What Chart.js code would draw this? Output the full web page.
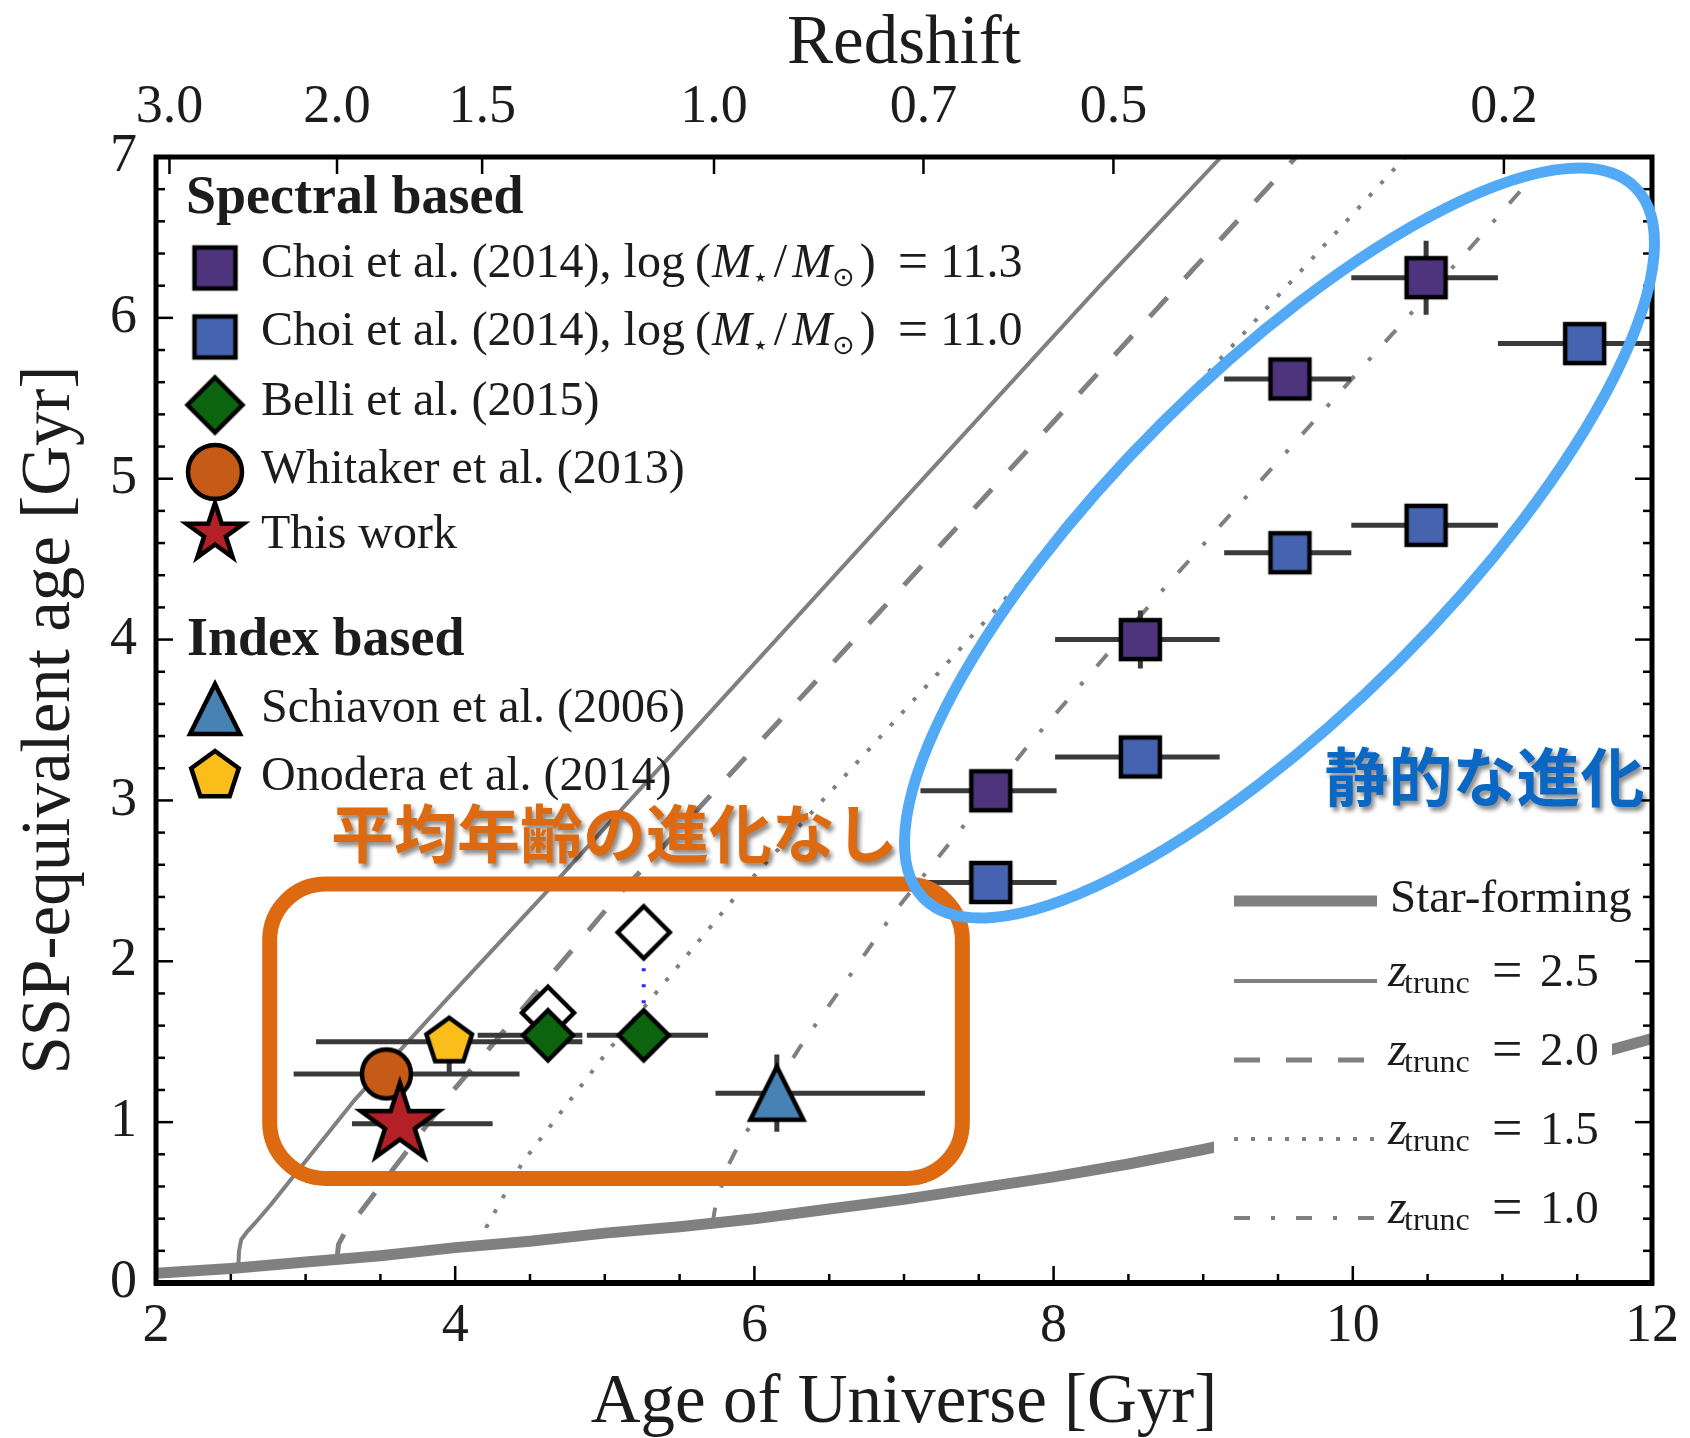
<!DOCTYPE html>
<html>
<head>
<meta charset="utf-8">
<title>SSP-equivalent age vs age of Universe</title>
<script src="https://cdn.jsdelivr.net/npm/chart.js@4.4.1/dist/chart.umd.min.js"></script>
<style>
  html, body { margin: 0; padding: 0; background: #fff; }
  #box { width: 1690px; height: 1438px; }
</style>
</head>
<body>
<div id="box"><canvas id="myChart"></canvas></div>
<script>
// axes
const ageMin = 2, ageMax = 12, ageStep = 2, ageMinorStep = 0.5;
const sspMin = 0, sspMax = 7, sspStep = 1, sspMinorStep = 0.2;
const redshiftLabels = ['3.0', '2.0', '1.5', '1.0', '0.7', '0.5', '0.2'];
const redshiftAges = [2.09, 3.21, 4.18, 5.73, 7.13, 8.40, 11.01];

// Choi et al. (2014), log M = 11.3
const choi113Age = [7.58, 8.58, 9.58, 10.49];
const choi113SSP = [3.06, 4.00, 5.62, 6.25];
const choi113AgeLo = [7.11, 8.01, 9.14, 9.99];
const choi113AgeHi = [8.02, 9.11, 9.99, 10.97];
const choi113ErrLo = [0.08, 0.18, 0.10, 0.23];
const choi113ErrHi = [0.08, 0.18, 0.10, 0.23];

// Choi et al. (2014), log M = 11.0
const choi110Age = [7.58, 8.58, 9.58, 10.49, 11.55];
const choi110SSP = [2.49, 3.27, 4.54, 4.71, 5.84];
const choi110AgeLo = [7.11, 8.01, 9.14, 9.99, 10.97];
const choi110AgeHi = [8.02, 9.11, 9.99, 10.97, 11.99];
const choi110ErrLo = [0.08, 0.08, 0.08, 0.08, 0.08];
const choi110ErrHi = [0.08, 0.08, 0.08, 0.08, 0.08];

// Belli et al. (2015), filled and open
const belliAge = [4.62, 5.26];
const belliSSP = [1.54, 1.54];
const belliAgeLo = [4.15, 4.88];
const belliAgeHi = [4.85, 5.69];
const belliErrLo = [0.10, 0.13];
const belliErrHi = [0.10, 0.13];
const belliOpenSSP = [1.68, 2.18];

// Whitaker et al. (2013)
const whitakerAge = [3.54];
const whitakerSSP = [1.30];
const whitakerAgeLo = [2.92];
const whitakerAgeHi = [4.43];
const whitakerErrLo = [0.08];
const whitakerErrHi = [0.08];

// This work
const thisWorkAge = [3.63];
const thisWorkSSP = [0.99];
const thisWorkAgeLo = [3.31];
const thisWorkAgeHi = [4.25];
const thisWorkErrLo = [0.08];
const thisWorkErrHi = [0.08];

// Schiavon et al. (2006)
const schiavonAge = [6.15];
const schiavonSSP = [1.18];
const schiavonAgeLo = [5.74];
const schiavonAgeHi = [7.14];
const schiavonErrLo = [0.24];
const schiavonErrHi = [0.24];

// Onodera et al. (2014)
const onoderaAge = [3.96];
const onoderaSSP = [1.50];
const onoderaAgeLo = [3.07];
const onoderaAgeHi = [4.85];
const onoderaErrLo = [0.19];
const onoderaErrHi = [0.10];

// model tracks
const sfAge = [2.0, 2.5, 3.0, 3.5, 4.0, 4.5, 5.0, 5.5, 6.0, 6.5, 7.0, 7.5, 8.0, 8.5, 9.0, 9.5, 10.0, 10.5, 11.0, 11.5, 12.0];
const sfSSP = [0.06, 0.09, 0.13, 0.17, 0.22, 0.26, 0.31, 0.35, 0.40, 0.46, 0.52, 0.59, 0.66, 0.74, 0.83, 0.93, 1.04, 1.15, 1.27, 1.39, 1.52];
const z25Age = [2.55, 2.555, 2.57, 2.61, 2.66, 2.77, 2.89, 3.33, 3.94, 4.60, 6.00, 7.00, 8.29, 9.12];
const z25SSP = [0.10, 0.20, 0.27, 0.32, 0.37, 0.49, 0.63, 1.14, 1.76, 2.42, 3.85, 4.87, 6.18, 7.00];
const z20Age = [3.21, 3.22, 3.26, 3.48, 3.99, 4.22, 5.08, 6.50, 8.34, 9.62];
const z20SSP = [0.15, 0.24, 0.31, 0.58, 1.20, 1.45, 2.40, 3.83, 5.70, 7.00];
const z15Age = [4.18, 4.21, 4.45, 5.01, 5.89, 7.50, 9.09, 10.35];
const z15SSP = [0.24, 0.35, 0.75, 1.43, 2.42, 4.07, 5.72, 7.00];
const z10Age = [5.72, 5.74, 5.82, 5.90, 6.30, 6.93, 7.82, 8.75, 10.09, 10.79, 11.32];
const z10SSP = [0.37, 0.48, 0.72, 0.87, 1.46, 2.30, 3.33, 4.33, 5.72, 6.44, 7.00];

const serif = "'Liberation Serif', 'Times New Roman', serif";
const cjk = "'Noto Sans CJK JP', 'Noto Sans CJK SC', sans-serif";
const ink = '#1c1c1c';
const modelGray = '#808080';

function toPoints(xs, ys) {
    return xs.map((v, i) => ({x: v, y: ys[i]}));
}

// marker images, matplotlib-like shapes with black edge
function markerCanvas(shape, r, fill, lw) {
    lw = lw || 4.5;
    const s = Math.ceil(2 * r + 24);
    const c = document.createElement('canvas');
    c.width = s; c.height = s;
    const g = c.getContext('2d');
    g.translate(s / 2, s / 2);
    g.beginPath();
    if (shape === 'square') {
        g.rect(-r, -r, 2 * r, 2 * r);
    } else if (shape === 'diamond') {
        g.moveTo(0, -r); g.lineTo(r, 0); g.lineTo(0, r); g.lineTo(-r, 0); g.closePath();
    } else if (shape === 'circle') {
        g.arc(0, 0, r, 0, Math.PI * 2);
    } else if (shape === 'triangle') {
        g.moveTo(0, -r); g.lineTo(r, r); g.lineTo(-r, r); g.closePath();
    } else if (shape === 'pentagon') {
        for (let k = 0; k < 5; k++) {
            const a = -Math.PI / 2 + k * 2 * Math.PI / 5;
            g.lineTo(r * Math.cos(a), r * Math.sin(a));
        }
        g.closePath();
    } else if (shape === 'star') {
        for (let k = 0; k < 10; k++) {
            const a = -Math.PI / 2 + k * Math.PI / 5;
            const rr = k % 2 ? r * 0.381966 : r;
            g.lineTo(rr * Math.cos(a), rr * Math.sin(a));
        }
        g.closePath();
    }
    g.fillStyle = fill;
    g.fill();
    g.lineJoin = 'miter';
    g.lineWidth = lw;
    g.strokeStyle = '#000';
    g.stroke();
    return c;
}

const colors = {
    choi113: '#4e347d', choi110: '#4563ae', belli: '#0c640e', whitaker: '#c65a17',
    thisWork: '#b32025', schiavon: '#4682b4', onodera: '#fbbd19'
};

const plotMarks = {
    choi113: markerCanvas('square', 19.5, colors.choi113),
    choi110: markerCanvas('square', 19.5, colors.choi110),
    belli: markerCanvas('diamond', 25, colors.belli),
    belliOpen: markerCanvas('diamond', 26, '#fff'),
    whitaker: markerCanvas('circle', 24.5, colors.whitaker),
    thisWork: markerCanvas('star', 41, colors.thisWork),
    schiavon: markerCanvas('triangle', 26.5, colors.schiavon),
    onodera: markerCanvas('pentagon', 24, colors.onodera)
};
const legendMarks = {
    choi113: markerCanvas('square', 20.5, colors.choi113),
    choi110: markerCanvas('square', 20.5, colors.choi110),
    belli: markerCanvas('diamond', 27.5, colors.belli),
    whitaker: markerCanvas('circle', 27, colors.whitaker),
    thisWork: markerCanvas('star', 30, colors.thisWork),
    schiavon: markerCanvas('triangle', 25, colors.schiavon),
    onodera: markerCanvas('pentagon', 25, colors.onodera)
};

function pointSet(label, xs, ys, lo, hi, errLo, errHi, mark) {
    return {
        label: label, data: toPoints(xs, ys),
        errLo: lo, errHi: hi, errYLo: errLo, errYHi: errHi,
        showLine: false, pointStyle: mark, pointRadius: 22, pointHoverRadius: 22
    };
}
function modelSet(label, xs, ys, width, dash) {
    return {
        label: label, data: toPoints(xs, ys), showLine: true,
        borderColor: modelGray, borderWidth: width, borderDash: dash,
        borderCapStyle: 'butt', pointRadius: 0, pointHoverRadius: 0, tension: 0, fill: false
    };
}

// dotted link between open and filled Belli points
const belliLink = [];
belliAge.forEach((a, i) => {
    belliLink.push({x: a, y: belliSSP[i]}, {x: a, y: belliOpenSSP[i]}, {x: a, y: null});
});

// error bars under each point set
const errorBars = {
    id: 'errorBars',
    beforeDatasetDraw(chart, args) {
        const ds = chart.data.datasets[args.index];
        if (!ds.errYLo) return;
        const {ctx, chartArea: a, scales: {x, y}} = chart;
        ctx.save();
        ctx.beginPath();
        ctx.rect(a.left, a.top, a.right - a.left, a.bottom - a.top);
        ctx.clip();
        ctx.strokeStyle = '#3a3a3a';
        ctx.lineWidth = 5;
        ds.data.forEach((p, i) => {
            const px = x.getPixelForValue(p.x), py = y.getPixelForValue(p.y);
            ctx.beginPath();
            ctx.moveTo(x.getPixelForValue(ds.errLo[i]), py);
            ctx.lineTo(x.getPixelForValue(ds.errHi[i]), py);
            ctx.moveTo(px, y.getPixelForValue(p.y - ds.errYLo[i]));
            ctx.lineTo(px, y.getPixelForValue(p.y + ds.errYHi[i]));
            ctx.stroke();
        });
        ctx.restore();
    }
};

// inward ticks and frame
const frameTicks = {
    id: 'frameTicks',
    afterDatasetsDraw(chart) {
        const {ctx, chartArea: a, scales: {x, y}} = chart;
        ctx.save();
        ctx.strokeStyle = '#000';
        ctx.lineWidth = 2.5;
        const line = (x1, y1, x2, y2) => {
            ctx.beginPath(); ctx.moveTo(x1, y1); ctx.lineTo(x2, y2); ctx.stroke();
        };
        const nAge = Math.round((ageMax - ageMin) / ageMinorStep);
        for (let k = 0; k <= nAge; k++) {
            const v = ageMin + k * ageMinorStep;
            const major = Math.abs(v / ageStep - Math.round(v / ageStep)) < 1e-6;
            const px = x.getPixelForValue(v);
            line(px, a.bottom, px, a.bottom - (major ? 17 : 9));
        }
        redshiftAges.forEach(v => {
            const px = x.getPixelForValue(v);
            line(px, a.top, px, a.top + 17);
        });
        const nSsp = Math.round((sspMax - sspMin) / sspMinorStep);
        for (let k = 0; k <= nSsp; k++) {
            const v = sspMin + k * sspMinorStep;
            const major = Math.abs(v / sspStep - Math.round(v / sspStep)) < 1e-6;
            const py = y.getPixelForValue(v);
            const len = major ? 17 : 9;
            line(a.left, py, a.left + len, py);
            line(a.right, py, a.right - len, py);
        }
        ctx.lineWidth = 5;
        ctx.strokeRect(a.left, a.top, a.right - a.left, a.bottom - a.top);
        ctx.lineWidth = 6;
        line(a.left - 2, a.bottom, a.right + 2, a.bottom);
        ctx.restore();
    }
};

function drawRich(ctx, x, baseline, segs) {
    segs.forEach(s => {
        ctx.font = s[1];
        ctx.fillText(s[0], x, baseline + s[2]);
        x += ctx.measureText(s[0]).width + s[3];
    });
}

const R48 = '48px ' + serif;
const I48 = 'italic 48px ' + serif;
const EQ = '54px ' + serif;
const SUB = "27px 'DejaVu Sans', sans-serif";
const TR = '32px ' + serif;
function choiSegs(val) {
    return [
        ['Choi et al. (2014), log', R48, 0, 10],
        ['(', R48, 0, 1],
        ['M', I48, 0, 0],
        ['\u22C6', SUB, 9, 5],
        ['/', R48, 0, 5],
        ['M', I48, 0, 0],
        ['\u2299', SUB, 9, 5],
        [')', R48, 0, 22],
        ['=', EQ, 2, 12],
        [val, R48, 0, 0]
    ];
}

// legends drawn by hand (mixed text styles)
const legends = {
    id: 'legends',
    afterDraw(chart) {
        const {ctx} = chart;
        ctx.save();
        ctx.fillStyle = ink;
        ctx.textAlign = 'left';
        ctx.textBaseline = 'alphabetic';
        ctx.font = 'bold 54px ' + serif;
        ctx.fillText('Spectral based', 186, 213);
        ctx.fillText('Index based', 187, 655);
        const rows = [
            [legendMarks.choi113, 268, 277, choiSegs('11.3')],
            [legendMarks.choi110, 337, 345, choiSegs('11.0')],
            [legendMarks.belli, 405, 415, [['Belli et al. (2015)', R48, 0, 0]]],
            [legendMarks.whitaker, 472, 483, [['Whitaker et al. (2013)', R48, 0, 0]]],
            [legendMarks.thisWork, 533, 548, [['This work', R48, 0, 0]]],
            [legendMarks.schiavon, 709, 722, [['Schiavon et al. (2006)', R48, 0, 0]]],
            [legendMarks.onodera, 776, 790, [['Onodera et al. (2014)', R48, 0, 0]]]
        ];
        rows.forEach(r => {
            ctx.drawImage(r[0], 215 - r[0].width / 2, r[1] - r[0].height / 2);
            drawRich(ctx, 261, r[2], r[3]);
        });

        // model legend, white frame hides the track behind it
        ctx.fillStyle = '#fff';
        ctx.fillRect(1214, 862, 398, 388);
        const lines = [
            [901, 11, [], null],
            [981, 4, [], '2.5'],
            [1060, 5, [26, 26], '2.0'],
            [1139, 4, [4, 13], '1.5'],
            [1218, 4, [16, 21, 4, 21], '1.0']
        ];
        lines.forEach(l => {
            ctx.strokeStyle = modelGray;
            ctx.lineWidth = l[1];
            ctx.setLineDash(l[2]);
            ctx.lineCap = 'butt';
            ctx.beginPath();
            ctx.moveTo(1234, l[0]);
            ctx.lineTo(1377, l[0]);
            ctx.stroke();
            ctx.setLineDash([]);
            ctx.fillStyle = ink;
            if (l[3] === null) {
                ctx.font = '47px ' + serif;
                ctx.fillText('Star-forming', 1390, l[0] + 11);
            } else {
                const b = l[0] + 5;
                ctx.font = 'italic 48px ' + serif;
                ctx.fillText('z', 1388, b);
                ctx.font = TR;
                ctx.fillText('trunc', 1404, b + 7);
                ctx.font = EQ;
                ctx.fillText('=', 1492, b + 2);
                ctx.font = '47px ' + serif;
                ctx.fillText(l[3], 1540, b);
            }
        });
        ctx.restore();
    }
};

// highlight annotations
const annotations = {
    id: 'annotations',
    afterDraw(chart) {
        const {ctx, scales: {x, y}} = chart;
        ctx.save();
        // orange box around the low-z points
        const bx0 = x.getPixelForValue(2.76), bx1 = x.getPixelForValue(7.39);
        const by0 = y.getPixelForValue(2.48), by1 = y.getPixelForValue(0.65);
        const rad = 56;
        ctx.strokeStyle = '#dd6a10';
        ctx.lineWidth = 15;
        ctx.beginPath();
        ctx.moveTo(bx0 + rad, by0);
        ctx.arcTo(bx1, by0, bx1, by1, rad);
        ctx.arcTo(bx1, by1, bx0, by1, rad);
        ctx.arcTo(bx0, by1, bx0, by0, rad);
        ctx.arcTo(bx0, by0, bx1, by0, rad);
        ctx.closePath();
        ctx.stroke();

        // blue ellipse around the Choi points
        ctx.save();
        ctx.translate(x.getPixelForValue(9.51), y.getPixelForValue(4.60));
        ctx.rotate(-Math.PI / 4);
        ctx.beginPath();
        ctx.ellipse(0, 0, 503, 168, 0, 0, Math.PI * 2);
        ctx.strokeStyle = '#52a9f5';
        ctx.lineWidth = 11;
        ctx.stroke();
        ctx.restore();

        ctx.shadowColor = 'rgba(0,0,0,0.45)';
        ctx.shadowOffsetX = 3;
        ctx.shadowOffsetY = 4;
        ctx.shadowBlur = 4;
        ctx.textBaseline = 'middle';
        ctx.textAlign = 'left';
        ctx.font = 'bold 63px ' + cjk;
        ctx.fillStyle = '#dd6a10';
        ctx.fillText('平均年齢の進化なし', x.getPixelForValue(3.17), y.getPixelForValue(2.80));
        ctx.font = 'bold 64px ' + cjk;
        ctx.fillStyle = '#0b67c4';
        ctx.fillText('静的な進化', x.getPixelForValue(9.81), y.getPixelForValue(3.15));
        ctx.restore();
    }
};

const ctx = document.getElementById('myChart').getContext('2d');
const chart = new Chart(ctx, {
    type: 'scatter',
    data: {
        datasets: [
            pointSet('This work', thisWorkAge, thisWorkSSP, thisWorkAgeLo, thisWorkAgeHi, thisWorkErrLo, thisWorkErrHi, plotMarks.thisWork),
            pointSet('Belli et al. (2015)', belliAge, belliSSP, belliAgeLo, belliAgeHi, belliErrLo, belliErrHi, plotMarks.belli),
            pointSet('Whitaker et al. (2013)', whitakerAge, whitakerSSP, whitakerAgeLo, whitakerAgeHi, whitakerErrLo, whitakerErrHi, plotMarks.whitaker),
            pointSet('Onodera et al. (2014)', onoderaAge, onoderaSSP, onoderaAgeLo, onoderaAgeHi, onoderaErrLo, onoderaErrHi, plotMarks.onodera),
            {
                label: 'Belli open', data: toPoints(belliAge, belliOpenSSP), showLine: false,
                pointStyle: plotMarks.belliOpen, pointRadius: 22, pointHoverRadius: 22
            },
            {
                label: 'Belli link', data: belliLink, showLine: true, spanGaps: false,
                borderColor: '#2a2aff', borderWidth: 4, borderDash: [3, 13], pointRadius: 0
            },
            pointSet('Schiavon et al. (2006)', schiavonAge, schiavonSSP, schiavonAgeLo, schiavonAgeHi, schiavonErrLo, schiavonErrHi, plotMarks.schiavon),
            pointSet('Choi 11.3', choi113Age, choi113SSP, choi113AgeLo, choi113AgeHi, choi113ErrLo, choi113ErrHi, plotMarks.choi113),
            pointSet('Choi 11.0', choi110Age, choi110SSP, choi110AgeLo, choi110AgeHi, choi110ErrLo, choi110ErrHi, plotMarks.choi110),
            modelSet('Star-forming', sfAge, sfSSP, 11, []),
            modelSet('ztrunc = 2.5', z25Age, z25SSP, 4, []),
            modelSet('ztrunc = 2.0', z20Age, z20SSP, 5, [26, 26]),
            modelSet('ztrunc = 1.5', z15Age, z15SSP, 4, [4, 13]),
            modelSet('ztrunc = 1.0', z10Age, z10SSP, 4, [16, 21, 4, 21])
        ]
    },
    options: {
        responsive: true,
        maintainAspectRatio: false,
        animation: false,
        events: [],
        layout: { padding: 0 },
        plugins: { legend: { display: false }, tooltip: { enabled: false } },
        scales: {
            x: {
                type: 'linear', position: 'bottom', min: ageMin, max: ageMax,
                afterFit: s => { s.height = 155; },
                grid: { display: false, drawTicks: false },
                border: { display: false },
                ticks: { stepSize: ageStep, autoSkip: false, padding: 11, color: ink, font: { family: serif, size: 54 } },
                title: { display: true, text: 'Age of Universe [Gyr]', color: ink, padding: { top: 0, bottom: 0 },
                         font: { family: serif, size: 69, lineHeight: 1 } }
            },
            xTop: {
                type: 'linear', position: 'top', min: ageMin, max: ageMax,
                afterFit: s => { s.height = 157; },
                afterBuildTicks: s => { s.ticks = redshiftAges.map(v => ({ value: v })); },
                grid: { display: false, drawTicks: false },
                border: { display: false },
                ticks: { autoSkip: false, padding: 17, color: ink, font: { family: serif, size: 54 },
                         callback: (v, i) => redshiftLabels[i] },
                title: { display: true, text: 'Redshift', color: ink, padding: { top: 10, bottom: 0 },
                         font: { family: serif, size: 69, lineHeight: 1 } }
            },
            y: {
                type: 'linear', position: 'left', min: sspMin, max: sspMax,
                afterFit: s => { s.width = 156; },
                grid: { display: false, drawTicks: false },
                border: { display: false },
                ticks: { stepSize: sspStep, autoSkip: false, padding: 19, color: ink, font: { family: serif, size: 54 } },
                title: { display: true, text: 'SSP-equivalent age [Gyr]', color: ink, padding: { top: 16, bottom: 0 },
                         font: { family: serif, size: 69, lineHeight: 1 } }
            },
            yRight: {
                type: 'linear', position: 'right', min: sspMin, max: sspMax,
                afterFit: s => { s.width = 32; },
                grid: { display: false, drawTicks: false },
                border: { display: false },
                ticks: { display: false }
            }
        }
    },
    plugins: [errorBars, frameTicks, legends, annotations]
});
</script>
</body>
</html>
